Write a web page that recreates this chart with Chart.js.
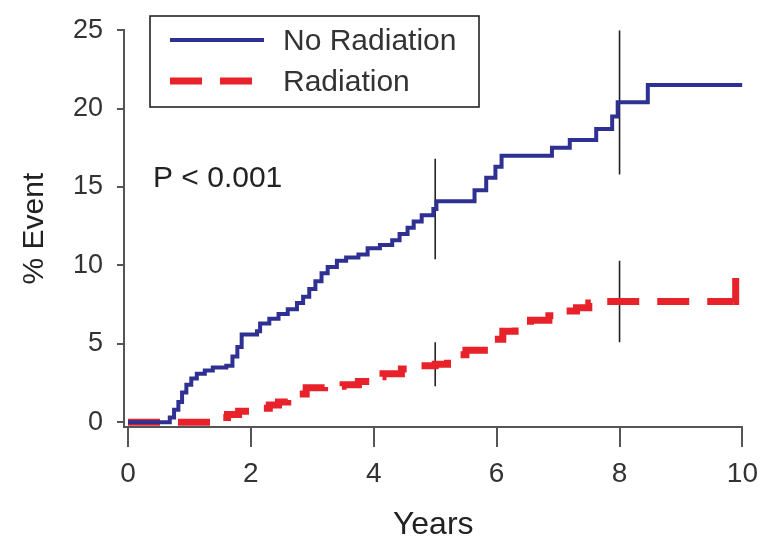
<!DOCTYPE html>
<html>
<head>
<meta charset="utf-8">
<script src="https://cdn.jsdelivr.net/npm/chart.js@4/dist/chart.umd.min.js"></script>
<style>
  html, body { margin: 0; padding: 0; background: #fff; }
  #wrap { position: relative; width: 768px; height: 544px; }
</style>
</head>
<body>
<div id="wrap"><canvas id="c" width="768" height="544"></canvas></div>
<script>
// ---- data ----
const xTicks = [0, 2, 4, 6, 8, 10];
const yTicks = [0, 5, 10, 15, 20, 25];
const seriesNames = ['No Radiation', 'Radiation'];
const noRadYears = [0, 0.68, 0.75, 0.82, 0.88, 0.95, 1.03, 1.12, 1.25, 1.38, 1.6, 1.7, 1.78, 1.85, 2.1, 2.15, 2.3, 2.45, 2.6, 2.75, 2.85, 2.95, 3.05, 3.15, 3.25, 3.4, 3.55, 3.75, 3.9, 4.1, 4.3, 4.42, 4.55, 4.65, 4.78, 4.97, 5.02, 5.64, 5.83, 5.98, 6.08, 6.9, 7.19, 7.62, 7.88, 7.97, 8.46, 10];
const noRadEvent = [0, 0.3, 0.8, 1.3, 1.9, 2.4, 2.8, 3.1, 3.3, 3.5, 3.6, 4.2, 4.8, 5.6, 5.8, 6.3, 6.6, 6.9, 7.2, 7.6, 8.0, 8.5, 9.0, 9.5, 9.9, 10.3, 10.5, 10.7, 11.1, 11.3, 11.6, 12.0, 12.4, 12.8, 13.2, 13.6, 14.1, 14.8, 15.6, 16.3, 17.0, 17.5, 18.0, 18.7, 19.5, 20.4, 21.5, 21.5];
const radYears = [0, 1.5, 1.62, 1.8, 2.0, 2.3, 2.45, 2.6, 2.75, 2.9, 3.2, 3.5, 3.75, 3.95, 4.15, 4.45, 4.7, 5.0, 5.2, 5.5, 5.8, 5.95, 6.1, 6.3, 6.55, 6.85, 7.05, 7.3, 7.5, 7.75, 9.85, 9.89];
const radEvent = [0, 0.3, 0.5, 0.7, 0.9, 1.1, 1.3, 1.5, 1.8, 2.2, 2.3, 2.4, 2.6, 2.9, 3.1, 3.4, 3.6, 3.7, 4.3, 4.6, 4.9, 5.3, 5.8, 6.1, 6.5, 6.8, 7.1, 7.3, 7.6, 7.7, 7.7, 9.2];
// vertical reference marks: [year, low, high]
const markNoRad5 = [5, 10.4, 16.8];
const markNoRad8 = [8, 15.8, 25];
const markRad5 = [5, 2.3, 5.1];
const markRad8 = [8, 5.1, 10.3];
const pText = 'P < 0.001';
const xTitle = 'Years';
const yTitle = '% Event';

// ---- build ----
const FONT = '"Liberation Sans", Arial, sans-serif';
const BLUE = '#2e3192';
const RED = '#e8222b';
const pts = (xs, ys) => xs.map((x, i) => ({ x: x, y: ys[i] }));
const mark = m => ({
  data: [{ x: m[0], y: m[1] }, { x: m[0], y: m[2] }],
  borderColor: '#222', borderWidth: 1.6, pointRadius: 0
});

const legendPlugin = {
  id: 'kmLegend',
  afterDraw(chart) {
    const ctx = chart.ctx;
    ctx.save();
    ctx.strokeStyle = '#222';
    ctx.lineWidth = 1.6;
    ctx.strokeRect(150, 16, 329, 91);
    const ds = chart.data.datasets;
    const rows = [{ d: ds[0], y: 40 }, { d: ds[1], y: 81 }];
    rows.forEach(r => {
      ctx.beginPath();
      ctx.strokeStyle = r.d.borderColor;
      ctx.lineWidth = r.d.borderWidth;
      ctx.setLineDash(r.d.borderDash || []);
      ctx.moveTo(170, r.y);
      ctx.lineTo(264, r.y);
      ctx.stroke();
      ctx.setLineDash([]);
      ctx.fillStyle = '#333';
      ctx.font = '30px ' + FONT;
      ctx.textBaseline = 'middle';
      ctx.textAlign = 'left';
      ctx.fillText(r.d.label, 283, r.y + 2);
    });
    ctx.font = '30px ' + FONT;
    ctx.fillStyle = '#222';
    ctx.fillText(pText, 153, 179);
    ctx.restore();
  }
};

new Chart(document.getElementById('c'), {
  type: 'line',
  data: {
    datasets: [
      { label: seriesNames[0], data: pts(noRadYears, noRadEvent), borderColor: BLUE, borderWidth: 4, stepped: true, pointRadius: 0 },
      { label: seriesNames[1], data: pts(radYears, radEvent), borderColor: RED, borderWidth: 7, borderDash: [32, 18], borderCapStyle: 'butt', stepped: true, pointRadius: 0,
        segment: { borderDash: c => (c.p1DataIndex === radYears.length - 1 ? [] : undefined) } },
      mark(markNoRad5), mark(markNoRad8), mark(markRad5), mark(markRad8)
    ]
  },
  options: {
    responsive: false,
    animation: false,
    layout: { padding: { left: 0, right: 25, top: 21, bottom: 0 } },
    plugins: { legend: { display: false }, tooltip: { enabled: false } },
    scales: {
      x: {
        type: 'linear', min: -0.065, max: 10,
        afterBuildTicks: s => { s.ticks = xTicks.map(v => ({ value: v })); },
        afterFit: s => { s.height = 117; },
        grid: { drawOnChartArea: false, drawTicks: true, tickLength: 20, color: '#555', lineWidth: 2 },
        border: { display: true, color: '#555', width: 2 },
        ticks: { color: '#333', font: { family: FONT, size: 28 }, padding: 10, maxRotation: 0 },
        title: { display: true, text: xTitle, color: '#222', font: { family: FONT, size: 32, lineHeight: 1 }, padding: { top: 0, bottom: 3 } }
      },
      y: {
        type: 'linear', min: -0.3, max: 25,
        afterBuildTicks: s => { s.ticks = yTicks.map(v => ({ value: v })); },
        afterFit: s => { s.width = 124; },
        grid: { drawOnChartArea: false, drawTicks: true, tickLength: 7, color: '#555', lineWidth: 2 },
        border: { display: true, color: '#555', width: 2 },
        ticks: { color: '#333', font: { family: FONT, size: 27 }, padding: 14 },
        title: { display: true, text: yTitle, color: '#222', font: { family: FONT, size: 30, lineHeight: 1 }, padding: { top: 20, bottom: 0 } }
      }
    }
  },
  plugins: [legendPlugin]
});
</script>
</body>
</html>
